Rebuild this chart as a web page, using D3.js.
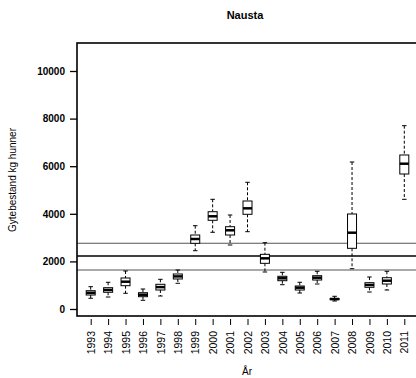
<!DOCTYPE html>
<html>
<head>
<meta charset="utf-8">
<script src="https://cdn.jsdelivr.net/npm/d3@7/dist/d3.min.js"></script>
<style>
  html, body { margin: 0; padding: 0; background: #fff; }
  svg { display: block; }
  text { font-family: "Liberation Sans", Arial, sans-serif; }
</style>
</head>
<body>
<svg id="chart" width="416" height="378"></svg>
<script>
const years     = ["1993","1994","1995","1996","1997","1998","1999","2000","2001","2002","2003","2004","2005","2006","2007","2008","2009","2010","2011"];
const whiskLow  = [450, 504, 660, 366, 546, 1080, 2450, 3223, 2689, 3248, 1555, 1021, 672, 1050, 336, 1693, 714, 798, 4609];
const q1        = [588, 702, 979, 517, 798, 1261, 2760, 3727, 3109, 3979, 1919, 1189, 798, 1218, 391, 2550, 912, 1050, 5672];
const medians   = [680, 800, 1147, 600, 920, 1370, 2941, 3895, 3307, 4230, 2129, 1290, 895, 1315, 420, 3206, 1010, 1189, 6105];
const q3        = [769, 895, 1303, 685, 1038, 1471, 3109, 4088, 3458, 4538, 2297, 1374, 966, 1399, 441, 3992, 1105, 1315, 6471];
const whiskHigh = [937, 1122, 1597, 840, 1248, 1639, 3500, 4609, 3950, 5324, 2786, 1541, 1122, 1584, 534, 6176, 1345, 1584, 7702];
const yTicks    = [0, 2000, 4000, 6000, 8000, 10000];
const refLines  = [2760, 2227, 1639];
const refColors = ["#555", "#000", "#555"];

const svg = d3.select("#chart");
const frame = {left: 77, top: 43, right: 418, bottom: 316};

const x = d3.scalePoint().domain(years).range([90.7, 404.3]);
const y = d3.scaleLinear().domain([0, 10000]).range([309, 71]);

// Title
svg.append("text").attr("x", 245).attr("y", 19).attr("text-anchor", "middle")
  .attr("font-size", 11).attr("font-weight", "bold").text("Nausta");

// reference lines
svg.append("g").selectAll("line").data(refLines).join("line")
  .attr("x1", frame.left).attr("x2", frame.right)
  .attr("y1", d => y(d)).attr("y2", d => y(d))
  .attr("stroke", (d, i) => refColors[i]).attr("stroke-width", (d, i) => i === 1 ? 1.4 : 1.1);

// boxes
const data = years.map((yr, i) => ({yr, lo: whiskLow[i], q1: q1[i], med: medians[i], q3: q3[i], hi: whiskHigh[i]}));
const bw = 9, sw = 4.5;
const g = svg.append("g").selectAll("g").data(data).join("g");
g.append("line").attr("x1", d => x(d.yr)).attr("x2", d => x(d.yr))
  .attr("y1", d => y(d.hi)).attr("y2", d => y(d.q3))
  .attr("stroke", "#000").attr("stroke-width", 1).attr("stroke-dasharray", "3,2");
g.append("line").attr("x1", d => x(d.yr)).attr("x2", d => x(d.yr))
  .attr("y1", d => y(d.q1)).attr("y2", d => y(d.lo))
  .attr("stroke", "#000").attr("stroke-width", 1).attr("stroke-dasharray", "3,2");
g.append("line").attr("x1", d => x(d.yr) - sw / 2).attr("x2", d => x(d.yr) + sw / 2)
  .attr("y1", d => y(d.hi)).attr("y2", d => y(d.hi)).attr("stroke", "#000").attr("stroke-width", 1);
g.append("line").attr("x1", d => x(d.yr) - sw / 2).attr("x2", d => x(d.yr) + sw / 2)
  .attr("y1", d => y(d.lo)).attr("y2", d => y(d.lo)).attr("stroke", "#000").attr("stroke-width", 1);
g.append("rect").attr("x", d => x(d.yr) - bw / 2).attr("width", bw)
  .attr("y", d => y(d.q3)).attr("height", d => y(d.q1) - y(d.q3))
  .attr("fill", "#fff").attr("stroke", "#000").attr("stroke-width", 1);
g.append("line").attr("x1", d => x(d.yr) - bw / 2).attr("x2", d => x(d.yr) + bw / 2)
  .attr("y1", d => y(d.med)).attr("y2", d => y(d.med)).attr("stroke", "#000").attr("stroke-width", 2.5);

// frame
svg.append("rect").attr("x", frame.left).attr("y", frame.top)
  .attr("width", frame.right - frame.left).attr("height", frame.bottom - frame.top)
  .attr("fill", "none").attr("stroke", "#000").attr("stroke-width", 1.6);

// y axis
const yAxis = d3.axisLeft(y).tickValues(yTicks).tickSize(7).tickPadding(5).tickFormat(d3.format("d"));
const ya = svg.append("g").attr("transform", `translate(${frame.left},0)`).call(yAxis);
ya.select(".domain").remove();
ya.selectAll(".tick line").attr("stroke-width", 1.3);
ya.selectAll(".tick text").attr("font-size", 10).attr("font-weight", "bold")
  .attr("font-family", "Liberation Sans, Arial, sans-serif").attr("fill", "#000");

// x axis
const xAxis = d3.axisBottom(x).tickSize(6).tickPadding(6);
const xa = svg.append("g").attr("transform", `translate(0,${frame.bottom + 3})`).call(xAxis);
xa.select(".domain").remove();
xa.selectAll(".tick line").attr("stroke", "#000");
xa.selectAll(".tick text").attr("font-size", 10.5).attr("font-family", "Liberation Sans, Arial, sans-serif")
  .attr("fill", "#000")
  .attr("transform", "rotate(-90)").attr("text-anchor", "end")
  .attr("x", -12).attr("y", 0).attr("dy", "0.35em");

// axis titles
svg.append("text").attr("x", 247).attr("y", 375).attr("text-anchor", "middle")
  .attr("font-size", 10).text("År");
svg.append("text").attr("transform", "translate(16,180) rotate(-90)").attr("text-anchor", "middle")
  .attr("font-size", 10).text("Gytebestand kg hunner");
</script>
</body>
</html>
